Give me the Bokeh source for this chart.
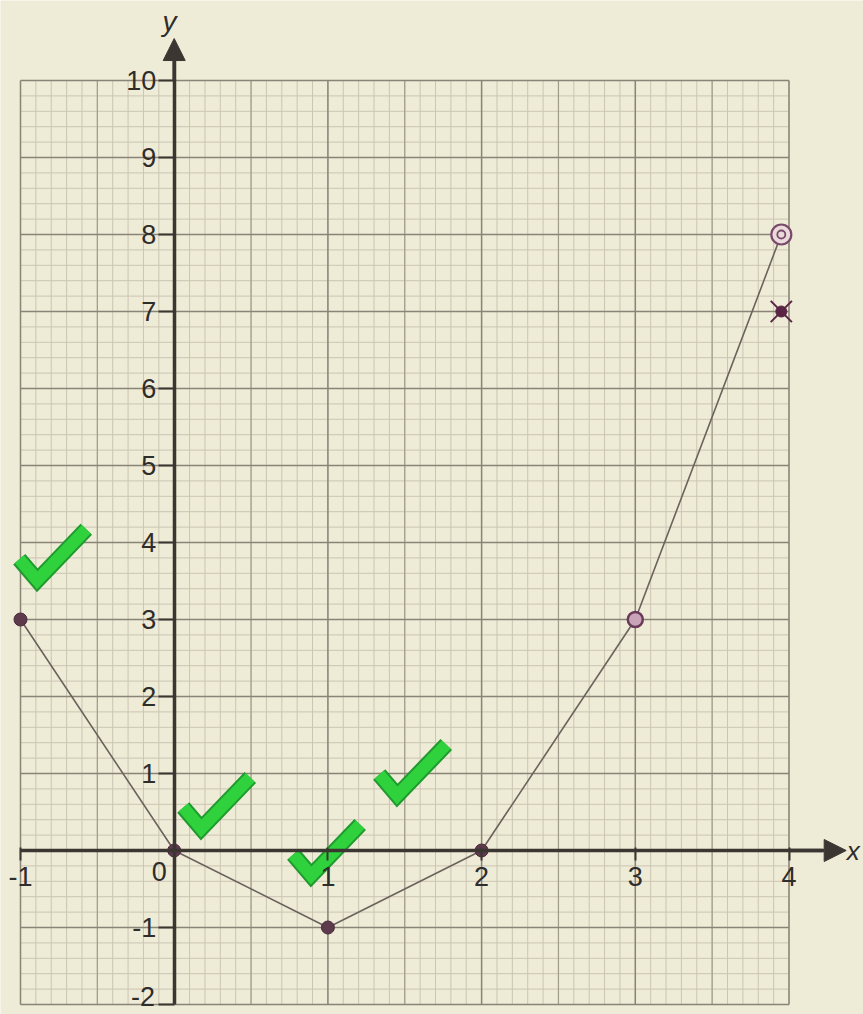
import numpy as np
from bokeh.plotting import figure
from bokeh.models import Range1d, FixedTicker, Arrow, NormalHead
from bokeh.core.properties import value
from bokeh.embed import file_html
from bokeh.resources import INLINE

# ---- data ----
point_x = [-1, 0, 1, 2]
point_y = [3, 0, -1, 0]
open_x = [3]
open_y = [3]
end_x = [3.95]
end_y = [8]
curve_x = [-1, 0, 1, 2, 3, 3.95]
curve_y = [3, 0, -1, 0, 3, 8]
cross_x = [3.95]
cross_y = [7.0]

x_ticks = [-1, 0, 1, 2, 3, 4]
x_tick_labels = {-1: "-1", 0: "", 1: "1", 2: "2", 3: "3", 4: "4"}
y_ticks = list(range(-2, 11))
y_tick_labels = {k: ("" if k in (0, -2) else str(k)) for k in y_ticks}

check_x = [-0.891, 0.176, 0.891, 1.451]
check_y = [3.51, 0.286, -0.325, 0.714]

# ---- figure ----
W, H = 863, 1014
PX_X = 153.7
PX_Y = 77.0
x0 = -1 - 20 / PX_X
y1 = 10 + 80 / PX_Y
p = figure(width=W, height=H, output_backend="svg", toolbar_location=None,
           title=None, x_range=Range1d(x0, x0 + W / PX_X),
           y_range=Range1d(y1 - H / PX_Y, y1), min_border=0,
           min_border_left=0, min_border_right=0, min_border_top=0,
           min_border_bottom=0)
bg = "#eeebd7"
p.background_fill_color = bg
p.border_fill_color = bg
p.outline_line_color = None
p.xgrid.visible = False
p.ygrid.visible = False

# ---- graph paper ----
gx_min, gx_max, gy_min, gy_max = -1, 4, -2, 10
minor_x = np.round(np.arange(gx_min, gx_max + 1e-9, 0.1), 3)
minor_y = np.round(np.arange(gy_min, gy_max + 1e-9, 0.2), 3)
mid_x = np.round(np.arange(gx_min + 0.5, gx_max, 1.0), 3)
major_x = np.arange(gx_min, gx_max + 1)
major_y = np.arange(gy_min, gy_max + 1)

def vlines(xs, color, w):
    p.segment(x0=xs, x1=xs, y0=[gy_min] * len(xs), y1=[gy_max] * len(xs),
              line_color=color, line_width=w)

def hlines(ys, color, w):
    p.segment(x0=[gx_min] * len(ys), x1=[gx_max] * len(ys), y0=ys, y1=ys,
              line_color=color, line_width=w)

vlines(minor_x, "#cbc5b2", 1)
hlines(minor_y, "#cbc5b2", 1)
vlines(mid_x, "#a29b8b", 1.2)
vlines(major_x, "#8a8477", 1.5)
hlines(major_y, "#8a8477", 1.5)

# ---- axes through the origin ----
axis_color = "#3b3631"
label_color = "#2f2d2a"
font = "Liberation Sans"

xa = p.xaxis[0]
xa.fixed_location = 0
xa.ticker = FixedTicker(ticks=x_ticks)
xa.minor_tick_line_color = None
xa.major_label_overrides = x_tick_labels
xa.bounds = (-1, 4.22)
xa.axis_line_color = axis_color
xa.axis_line_width = 3.5
xa.major_tick_line_color = axis_color
xa.major_tick_line_width = 2
xa.major_tick_in = 3
xa.major_tick_out = 10
xa.major_label_standoff = 6
xa.major_label_text_font = font
xa.major_label_text_font_size = "27px"
xa.major_label_text_color = label_color

ya = p.yaxis[0]
ya.fixed_location = 0
ya.ticker = FixedTicker(ticks=y_ticks)
ya.minor_tick_line_color = None
ya.major_label_overrides = y_tick_labels
ya.bounds = (-2, 10.26)
ya.axis_line_color = axis_color
ya.axis_line_width = 3.5
ya.major_tick_line_color = axis_color
ya.major_tick_line_width = 2
ya.major_tick_in = 0
ya.major_tick_out = 16
ya.major_label_standoff = 2
ya.major_label_text_font = font
ya.major_label_text_font_size = "27px"
ya.major_label_text_color = label_color

p.add_layout(Arrow(end=NormalHead(size=22, fill_color=axis_color, line_color=axis_color),
                   x_start=0, y_start=10.0, x_end=0, y_end=10.545,
                   line_color=axis_color, line_width=3.5))
p.add_layout(Arrow(end=NormalHead(size=22, fill_color=axis_color, line_color=axis_color),
                   x_start=4.0, y_start=0, x_end=4.372, y_end=0,
                   line_color=axis_color, line_width=3.5))

p.text(x=[-0.098], y=[-0.27], text=["0"], text_font=value(font),
       text_font_size="27px", text_color=label_color, text_align="center",
       text_baseline="middle")
# bottom y label kept inside the page
p.text(x=[-0.125], y=[-1.89], text=["-2"], text_font=value(font),
       text_font_size="27px", text_color=label_color, text_align="right",
       text_baseline="middle")
p.text(x=[-0.03], y=[10.77], text=["y"], text_font=value(font),
       text_font_size="28px", text_font_style="italic", text_color=label_color,
       text_align="center", text_baseline="middle")
p.text(x=[4.375], y=[0.0], text=["x"], text_font=value(font),
       text_font_size="26px", text_font_style="italic", text_color=label_color,
       text_align="left", text_baseline="middle")

# ---- the plotted curve ----
p.line(curve_x, curve_y, line_color="#6b625c", line_width=1.6)
p.scatter(point_x, point_y, size=13, marker="circle", fill_color="#5d3a4c",
          line_color="#4a2a3a", line_width=1)
p.scatter(open_x, open_y, size=15, marker="circle", fill_color="#c9a3b8",
          line_color="#6a3a58", line_width=2.5)
p.scatter(end_x, end_y, size=20, marker="circle", fill_color="#eadada",
          line_color="#7a4a6c", line_width=2.2)
p.scatter(end_x, end_y, size=8, marker="circle", fill_color="#eadada",
          line_color="#7a4a6c", line_width=1.8)
p.scatter(cross_x, cross_y, size=30, marker="x", line_color="#5a2444",
          line_width=2)
p.scatter(cross_x, cross_y, size=11, marker="circle", fill_color="#5a2444",
          line_color="#5a2444")

# ---- green ticks (marking) ----
ldx, ldy = -0.117, 0.273
rdx, rdy = 0.319, 0.662
cx = [[x + ldx, x, x + rdx] for x in check_x]
cy = [[y + ldy, y, y + rdy] for y in check_y]
p.multi_line(cx, cy, line_color="#1f9a2e", line_width=16, line_join="miter",
             line_cap="butt")
p.multi_line(cx, cy, line_color="#2fd13c", line_width=12, line_join="miter",
             line_cap="butt")

open("out.html", "w").write(file_html(p, INLINE))
